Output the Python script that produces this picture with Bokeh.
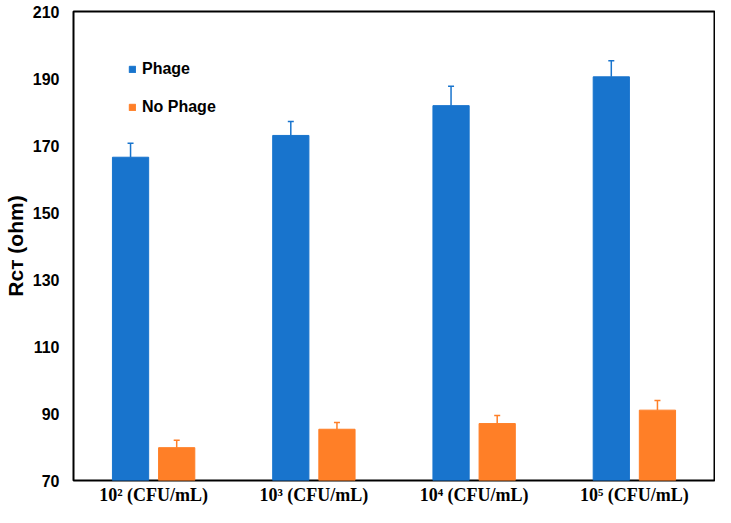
from bokeh.plotting import figure
from bokeh.models import (FactorRange, Range1d, ColumnDataSource, Whisker, TeeHead,
                          Legend, LegendItem, FixedTicker)
from bokeh.transform import dodge
from bokeh.embed import file_html
from bokeh.resources import INLINE

# ---- data ----
categories = ["10\u00b2 (CFU/mL)", "10\u00b3 (CFU/mL)", "10\u2074 (CFU/mL)", "10\u2075 (CFU/mL)"]
phage = [166.5, 173.0, 181.9, 190.5]
phage_err = [4.2, 4.2, 5.8, 4.8]
no_phage = [79.8, 85.3, 87.0, 91.0]
no_phage_err = [2.2, 2.0, 2.4, 2.9]
y_ticks = [70, 90, 110, 130, 150, 170, 190, 210]
series_names = ["Phage", "No Phage"]
y_title = "R\u1d04\u1d1b (ohm)"

BLUE = "#1874CD"
ORANGE = "#FF7F27"

source = ColumnDataSource(data=dict(
    x=categories,
    phage=phage,
    phage_up=[v + e for v, e in zip(phage, phage_err)],
    nophage=no_phage,
    nophage_up=[v + e for v, e in zip(no_phage, no_phage_err)],
))

p = figure(x_range=FactorRange(factors=categories, range_padding=0),
           y_range=Range1d(70, 210),
           width=715, height=507, output_backend="svg", toolbar_location=None,
           min_border_left=71, min_border_right=1, min_border_top=11, min_border_bottom=23)

off = 0.144
bw = 0.226
r1 = p.vbar(x=dodge("x", -off, range=p.x_range), top="phage", bottom=70, width=bw,
            source=source, fill_color=BLUE, line_color=BLUE)
r2 = p.vbar(x=dodge("x", off, range=p.x_range), top="nophage", bottom=70, width=bw,
            source=source, fill_color=ORANGE, line_color=ORANGE)

w1 = Whisker(source=source, base=dodge("x", -off, range=p.x_range), lower="phage", upper="phage_up",
             dimension="height", line_color=BLUE, line_width=1.5,
             upper_head=TeeHead(size=6, line_color=BLUE, line_width=1.5), lower_head=None)
w2 = Whisker(source=source, base=dodge("x", off, range=p.x_range), lower="nophage", upper="nophage_up",
             dimension="height", line_color=ORANGE, line_width=1.5,
             upper_head=TeeHead(size=6, line_color=ORANGE, line_width=1.5), lower_head=None)
p.add_layout(w1)
p.add_layout(w2)

legend = Legend(items=[LegendItem(label=series_names[0], renderers=[r1]),
                       LegendItem(label=series_names[1], renderers=[r2])],
                location=(55, 363), orientation="vertical",
                glyph_width=8, glyph_height=8, label_standoff=6,
                label_height=20, spacing=18, padding=0, margin=0,
                border_line_color=None, background_fill_alpha=0,
                label_text_font="Liberation Sans", label_text_font_style="bold",
                label_text_font_size="16px", label_text_color="black")
p.add_layout(legend)

p.xgrid.visible = False
p.ygrid.visible = False
p.outline_line_color = "black"
p.outline_line_width = 2

p.yaxis.ticker = FixedTicker(ticks=y_ticks)
p.yaxis.major_tick_line_color = None
p.yaxis.minor_tick_line_color = None
p.yaxis.major_tick_out = 0
p.yaxis.major_tick_in = 0
p.yaxis.axis_line_color = None
p.yaxis.major_label_standoff = 14
p.yaxis.major_label_text_font = "Liberation Sans"
p.yaxis.major_label_text_font_style = "bold"
p.yaxis.major_label_text_font_size = "16px"
p.yaxis.major_label_text_color = "black"
p.yaxis.axis_label = y_title
p.yaxis.axis_label_standoff = 3
p.yaxis.axis_label_text_font = "Liberation Sans"
p.yaxis.axis_label_text_font_style = "bold"
p.yaxis.axis_label_text_font_size = "21px"
p.yaxis.axis_label_text_color = "black"

p.xaxis.major_tick_line_color = None
p.xaxis.minor_tick_line_color = None
p.xaxis.major_tick_out = 0
p.xaxis.major_tick_in = 0
p.xaxis.axis_line_color = None
p.xaxis.major_label_standoff = 4
p.xaxis.major_label_text_font = "Liberation Serif"
p.xaxis.major_label_text_font_style = "bold"
p.xaxis.major_label_text_font_size = "18px"
p.xaxis.major_label_text_color = "black"

open("out.html", "w").write(file_html(p, INLINE))
